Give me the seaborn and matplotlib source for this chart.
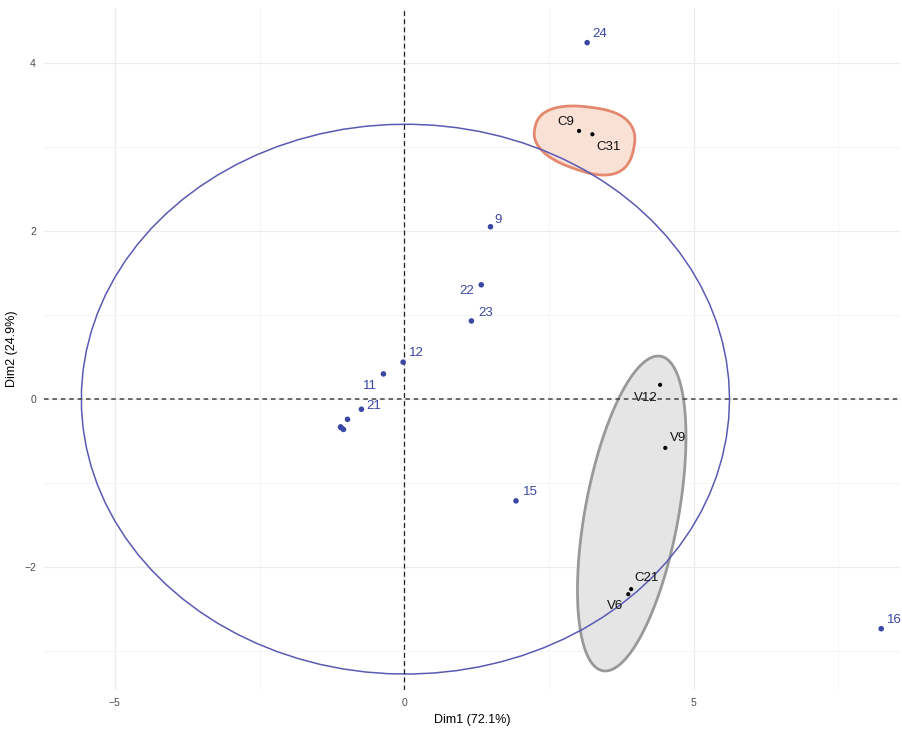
import numpy as np
import pandas as pd
import matplotlib
matplotlib.use('Agg')
import matplotlib.pyplot as plt
import seaborn as sns

# individuals (active)
ind_labels = ['24', '9', '22', '23', '12', '11', '21', '', '', '', '', '15', '16']
ind_x = [3.16, 1.49, 1.33, 1.16, -0.02, -0.36, -0.74, -0.98, -1.09, -1.05, -1.10, 1.93, 8.24]
ind_y = [4.24, 2.05, 1.36, 0.93, 0.44, 0.30, -0.12, -0.24, -0.34, -0.36, -0.33, -1.21, -2.73]

# supplementary points (two groups)
sup_labels = ['C9', 'C31', 'V12', 'V9', 'C21', 'V6']
sup_group = ['C', 'C', 'V', 'V', 'V', 'V']
sup_x = [3.02, 3.25, 4.42, 4.51, 3.92, 3.87]
sup_y = [3.19, 3.15, 0.17, -0.58, -2.26, -2.32]

# label offsets in pixels (dx, dy)
ind_off = [(13, 9), (8, 7), (-15, -6), (14, 8), (13, 9), (-13, -12), (12, 3),
           (0, 0), (0, 0), (0, 0), (0, 0), (14, 9), (13, 9)]
sup_off = [(-13, 9), (16, -13), (-14, -13), (13, 10), (15, 11), (-13, -12)]

# concentration ellipse of the individuals
big_center = (0.02, 0.0)
big_axes = (5.6, 3.27)

# group hulls: center, axis vector u, axis vector v, exponent, taper
hull_C = dict(c=(3.11, 3.10), u=(0.85, -0.133), v=(-0.12, -0.37), n=2.5, k=0.15)
hull_V = dict(c=(3.93, -1.36), u=(0.55, 1.86), v=(-0.759, 0.22), n=2.0, k=0.0)

ind = pd.DataFrame({'x': ind_x, 'y': ind_y, 'label': ind_labels})
sup = pd.DataFrame({'x': sup_x, 'y': sup_y, 'label': sup_labels, 'group': sup_group})

sns.set_theme(style='whitegrid')
plt.rcParams['font.family'] = ['Liberation Sans', 'DejaVu Sans']

fig = plt.figure(figsize=(9.03, 7.42), dpi=100)
ax = fig.add_axes([0.049, 0.070, 0.948, 0.919])


def shape(h, num=200):
    t = np.linspace(0, 2 * np.pi, num)
    e = 2.0 / h['n']
    fc = np.sign(np.cos(t)) * np.abs(np.cos(t)) ** e
    fs = np.sign(np.sin(t)) * np.abs(np.sin(t)) ** e
    fs = fs * (1 + h['k'] * fc)
    xs = h['c'][0] + h['u'][0] * fc + h['v'][0] * fs
    ys = h['c'][1] + h['u'][1] * fc + h['v'][1] * fs
    return xs, ys


xs, ys = shape(hull_V)
ax.fill(xs, ys, facecolor='#e5e5e5', edgecolor='#999999', lw=2, zorder=2)
xs, ys = shape(hull_C)
ax.fill(xs, ys, facecolor='#f9e1d6', edgecolor='#e4896f', lw=2, zorder=2)

t = np.linspace(0, 2 * np.pi, 90)
ax.plot(big_center[0] + big_axes[0] * np.cos(t), big_center[1] + big_axes[1] * np.sin(t),
        color='#5a5ab4', lw=1.1, zorder=3)

ax.axhline(0, color='#444444', ls=(0, (3, 2.5)), lw=1.1, zorder=3)
ax.axvline(0, color='#222222', ls=(0, (4, 2.5)), lw=0.9, zorder=3)

sns.scatterplot(data=ind, x='x', y='y', color='#3a47a3', s=16, edgecolor='none',
                ax=ax, zorder=4)
sns.scatterplot(data=sup, x='x', y='y', color='black', s=9, edgecolor='none',
                ax=ax, zorder=4)

for (px, py, lab), (dx, dy) in zip(zip(ind_x, ind_y, ind_labels), ind_off):
    if lab:
        ax.annotate(lab, (px, py), xytext=(dx * 0.72, dy * 0.72), textcoords='offset points',
                    ha='center', va='center', color='#3a47a3', fontsize=9.5, zorder=5)
for (px, py, lab), (dx, dy) in zip(zip(sup_x, sup_y, sup_labels), sup_off):
    ax.annotate(lab, (px, py), xytext=(dx * 0.72, dy * 0.72), textcoords='offset points',
                ha='center', va='center', color='#111111', fontsize=9.5, zorder=5)

ax.set_xlim(-6.22, 8.57)
ax.set_ylim(-3.46, 4.65)
ax.set_xticks([-5, 0, 5])
ax.set_yticks([-2, 0, 2, 4])
ax.set_xticks([-2.5, 2.5, 7.5], minor=True)
ax.set_yticks([-3, -1, 1, 3], minor=True)
ax.grid(which='major', color='#ebebeb', lw=0.9)
ax.grid(which='minor', color='#f4f4f4', lw=0.6)
for s in ax.spines.values():
    s.set_visible(False)
ax.tick_params(axis='both', which='major', length=3, color='#333333', labelsize=7.5,
               labelcolor='#4d4d4d', pad=3)
ax.tick_params(axis='both', which='minor', length=0)
ax.set_xlabel('Dim1 (72.1%)', fontsize=9, color='black', labelpad=4)
ax.set_ylabel('Dim2 (24.9%)', fontsize=9, color='black', labelpad=4)
ax.set_facecolor('white')

fig.savefig('out.png', dpi=100)
